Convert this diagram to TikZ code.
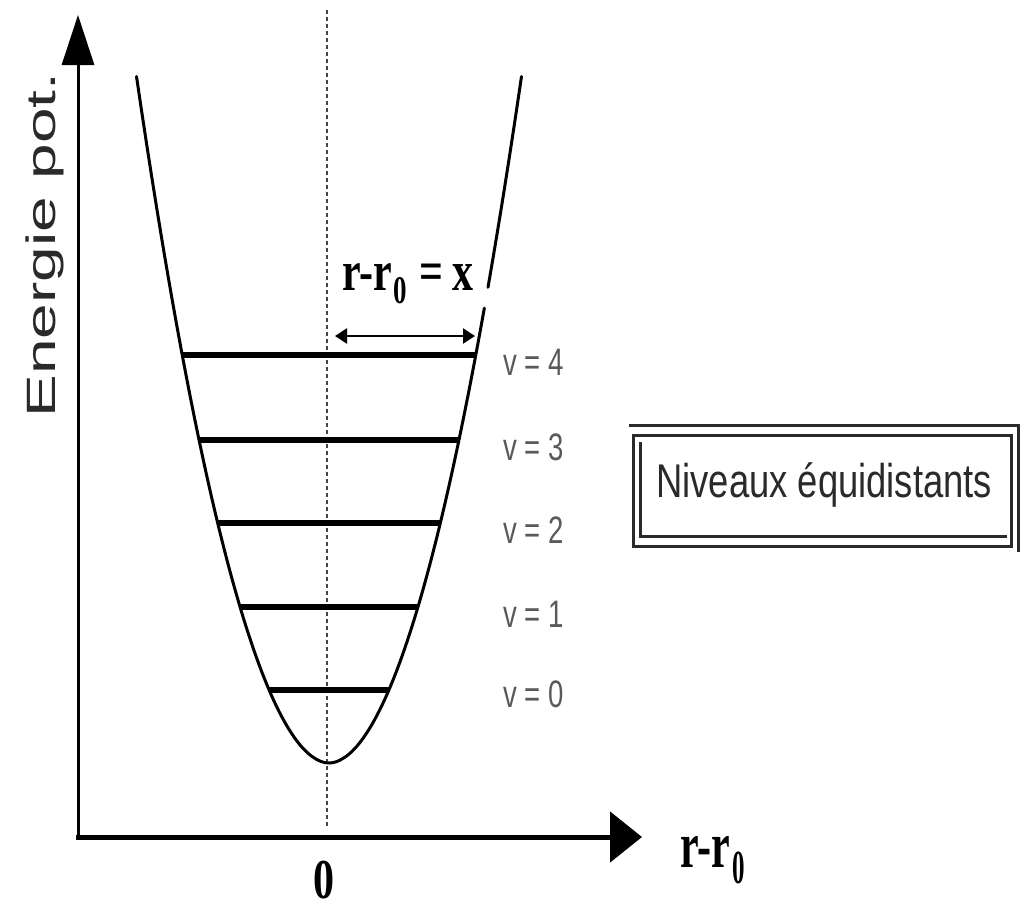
\documentclass[tikz,border=0pt]{standalone}
\usepackage{graphicx}
\usepackage{fontspec}
\setmainfont{Liberation Sans}
\newfontfamily\tms{Liberation Serif}
\usetikzlibrary{arrows.meta}
\definecolor{lbgray}{HTML}{5A5A5A}
\definecolor{txtdark}{HTML}{2A2A2A}
\definecolor{dotgray}{HTML}{444444}
\begin{document}
\begin{tikzpicture}[x=1pt,y=-1pt,
  axisline/.style={draw=black},
  levelline/.style={draw=black, line width=5.5pt},
  curveline/.style={draw=black, line width=3pt, line cap=round},
  framel/.style={draw=txtdark, line width=3pt},
  vlab/.style={inner sep=0pt, anchor=base west, text=lbgray},
  bold/.style={inner sep=0pt, text=black}
]
\fill[white] (0,0) rectangle (1030,908);
\useasboundingbox (0,0) rectangle (1030,908);

% axes
\coordinate (O) at (78,837);
\coordinate (Ol) at (76,837);
\coordinate (ytip) at (78,15);
\coordinate (xtip) at (642,837);
\draw[axisline, line width=3pt, -{Triangle[length=50pt,width=32pt]}] (O) -- (ytip);
\draw[axisline, line width=5pt, -{Triangle[length=32pt,width=50pt]}] (Ol) -- (xtip);

% dotted symmetry line
\coordinate (dtop) at (327,10);
\coordinate (dbot) at (327,828);
\draw[dotgray, line width=2.5pt, dash pattern=on 3.5pt off 3.5pt] (dtop) -- (dbot);

% potential curve
\draw[curveline] plot[domain=-1.925:1.555, samples=140]
  ({329+100*\x},{763-195.3*pow(abs(\x)+0.0001,1.92)});
\draw[curveline] plot[domain=1.59:1.925, samples=20]
  ({329+100*\x},{763-195.3*pow(abs(\x)+0.0001,1.92)});

% levels
\draw[levelline] (182,355) -- (476,355);
\draw[levelline] (199,440) -- (459,440);
\draw[levelline] (218,523) -- (440,523);
\draw[levelline] (240,607) -- (418,607);
\draw[levelline] (269,690) -- (389,690);

% level labels
\node[vlab] (v4) at (503,375) {\fontsize{29}{29}\selectfont\scalebox{0.95}[1.32]{v = 4}};
\node[vlab] (v3) at (503,460) {\fontsize{29}{29}\selectfont\scalebox{0.95}[1.32]{v = 3}};
\node[vlab] (v2) at (503,543) {\fontsize{29}{29}\selectfont\scalebox{0.95}[1.32]{v = 2}};
\node[vlab] (v1) at (503,627) {\fontsize{29}{29}\selectfont\scalebox{0.95}[1.32]{v = 1}};
\node[vlab] (v0) at (503,707) {\fontsize{29}{29}\selectfont\scalebox{0.95}[1.32]{v = 0}};

% displacement arrow
\coordinate (da) at (335,336);
\coordinate (db) at (475,336);
\draw[line width=2.5pt, {Triangle[length=12pt,width=15pt]}-{Triangle[length=12pt,width=15pt]}] (da) -- (db);

% label r-r0 = x
\node[bold, anchor=base west] (rx) at (342,290) {\tms\bfseries
  \scalebox{1}[1.35]{\fontsize{42}{42}\selectfont r-r}\hspace{2pt}\raisebox{-13pt}{\scalebox{1}[1.45]{\fontsize{27}{27}\selectfont 0}}\hspace{12pt}\scalebox{1}[1.35]{\fontsize{42}{42}\selectfont =\hspace{9pt}x}};

% axis labels
\node[bold, anchor=base west] (xl) at (680,867) {\tms\bfseries
  \scalebox{1}[1.56]{\fontsize{42}{42}\selectfont r-r}\hspace{3pt}\raisebox{-16pt}{\scalebox{1}[1.9]{\fontsize{25}{25}\selectfont 0}}};
\node[bold, anchor=base] (zero) at (324,898) {\tms\bfseries\scalebox{1}[1.34]{\fontsize{42}{42}\selectfont 0}};
\node[inner sep=0pt, anchor=base, rotate=90, text=txtdark] (ylab) at (55,245)
  {\fontsize{41}{41}\selectfont\scalebox{1.56}[1]{Energie pot.}};

% framed box
\node[inner sep=0pt, anchor=base west, text=txtdark] (box) at (656,497)
  {\fontsize{36.4}{36.4}\selectfont\scalebox{1}[1.3]{Niveaux équidistants}};
\draw[framel] (629,425) -- (1018,425) -- (1018,552);
\draw[framel] (633,435) rectangle (1011,546);
\draw[framel] (640,442) -- (640,536) -- (1007,536);
\end{tikzpicture}
\end{document}
